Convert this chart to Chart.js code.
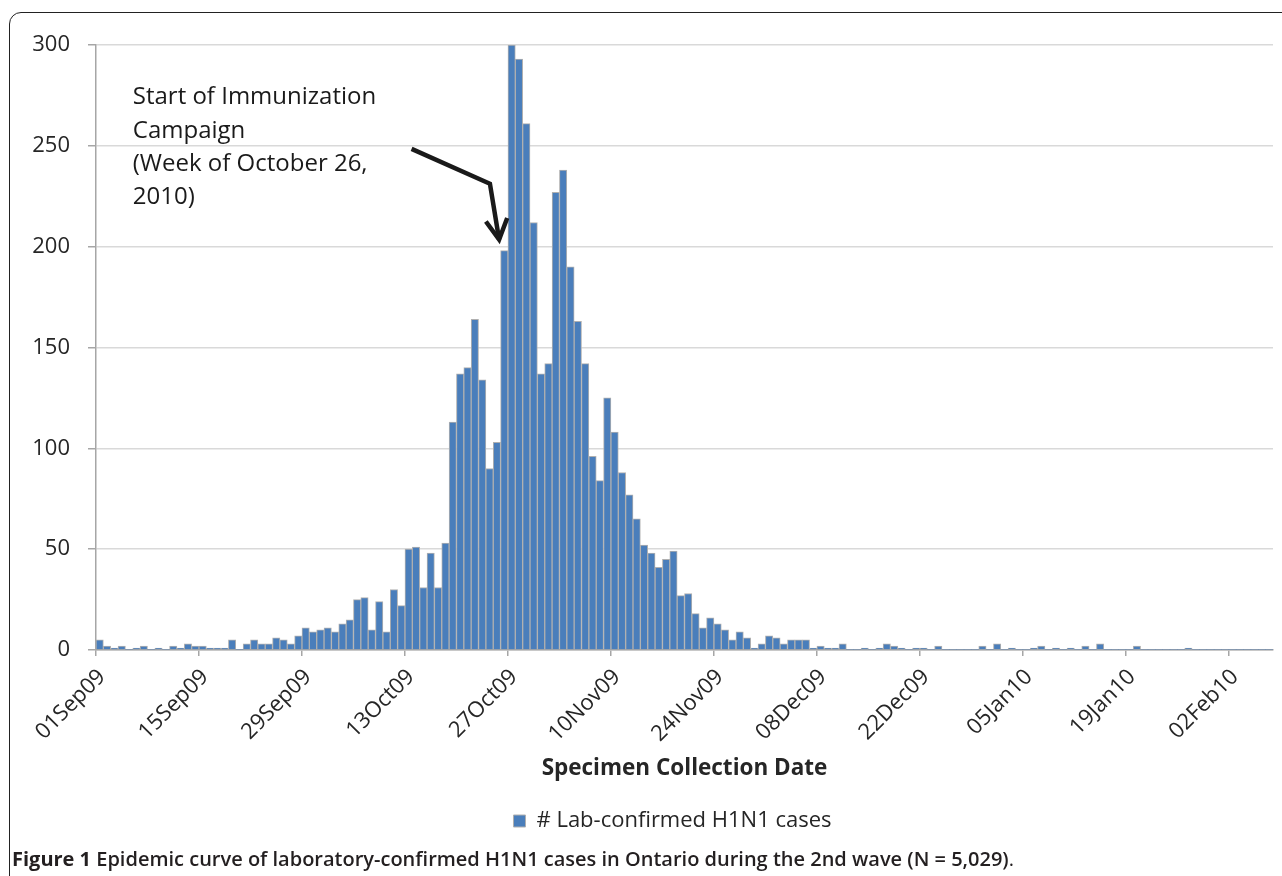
<!DOCTYPE html>
<html>
<head>
<meta charset="utf-8">
<script src="https://cdn.jsdelivr.net/npm/chart.js@4.4.0/dist/chart.umd.min.js"></script>
<style>
  html, body { margin: 0; padding: 0; background: #fff; }
  #wrap { position: relative; width: 1282px; height: 876px; overflow: hidden; }
  #frame {
    position: absolute; left: 9px; top: 12px; width: 1320px; height: 920px;
    border: 1.5px solid #222; border-radius: 12px; box-sizing: border-box;
  }
  #chart { position: absolute; left: 0; top: 0; }
  #caption {
    position: absolute; left: 12px; top: 845px; white-space: nowrap;
    font-family: "Open Sans", sans-serif; font-size: 20px; font-weight: 600; color: #231f20;
  }
  #caption b { font-weight: 700; }
</style>
</head>
<body>
<div id="wrap">
  <div id="frame"></div>
  <canvas id="chart" width="1282" height="876"></canvas>
  <div id="caption"><b>Figure 1</b> Epidemic curve of laboratory-confirmed H1N1 cases in Ontario during the 2nd wave (N = 5,029)<span style="font-weight:400">.</span></div>
</div>
<script>
// Daily counts, one per day starting 01Sep09
const cases = [
  5, 2, 1, 2, 0, 1, 2, 0, 1, 0,
  2, 1, 3, 2, 2, 1, 1, 1, 5, 0,
  3, 5, 3, 3, 6, 5, 3, 7, 11, 9,
  10, 11, 9, 13, 15, 25, 26, 10, 24, 9,
  30, 22, 50, 51, 31, 48, 31, 53, 113, 137,
  140, 164, 134, 90, 103, 198, 300, 293, 261, 212,
  137, 142, 227, 238, 190, 163, 142, 96, 84, 125,
  108, 88, 77, 65, 52, 48, 41, 45, 49, 27,
  28, 18, 11, 16, 13, 10, 5, 9, 6, 1,
  3, 7, 6, 3, 5, 5, 5, 1, 2, 1,
  1, 3, 0, 0, 1, 0, 1, 3, 2, 1,
  0, 1, 1, 0, 2, 0, 0, 0, 0, 0,
  2, 0, 3, 0, 1, 0, 0, 1, 2, 0,
  1, 0, 1, 0, 2, 0, 3, 0, 0, 0,
  0, 2, 0, 0, 0, 0, 0, 0, 1, 0,
  0, 0, 0, 0, 0, 0, 0, 0, 0, 0
];
const tickDays = [0, 14, 28, 42, 56, 70, 84, 98, 112, 126, 140, 154];
const tickLabels = ["01Sep09", "15Sep09", "29Sep09", "13Oct09", "27Oct09", "10Nov09",
  "24Nov09", "08Dec09", "22Dec09", "05Jan10", "19Jan10", "02Feb10"];
const yTicks = [0, 50, 100, 150, 200, 250, 300];

const noteLines = ["Start of Immunization", "Campaign", "(Week of October 26,", "2010)"];
const noteAnchor = [5, 274]; // day, cases
const arrowLine = [[42.9, 248.5], [53.55, 231.2], [54.8, 203.5]];
const arrowHead = [[53.0, 212.5], [54.8, 203.5], [55.9, 214.2]];

const textColor = "#262626";
const font = "'Open Sans', sans-serif";

// annotation text and arrow, placed through the scales
const notePlugin = {
  id: "note",
  afterLayout(chart) {
    // legend sits a little left of the plot centre in the original
    chart.legend.left -= 12;
    chart.legend.right -= 12;
  },
  afterDatasetsDraw(chart) {
    const { ctx, scales: { x, y } } = chart;
    ctx.save();
    ctx.fillStyle = "#1a1a1a";
    ctx.font = "24px " + font;
    ctx.textBaseline = "middle";
    ctx.textAlign = "left";
    const tx = x.getPixelForValue(noteAnchor[0]);
    const ty = y.getPixelForValue(noteAnchor[1]);
    noteLines.forEach((line, i) => ctx.fillText(line, tx, ty + i * 33.3));

    ctx.strokeStyle = "#1a1a1a";
    ctx.lineWidth = 4.5;
    ctx.lineJoin = "miter";
    [arrowLine, arrowHead].forEach((pts) => {
      ctx.beginPath();
      pts.forEach((p, i) => {
        const px = x.getPixelForValue(p[0]);
        const py = y.getPixelForValue(p[1]);
        if (i === 0) ctx.moveTo(px, py); else ctx.lineTo(px, py);
      });
      ctx.stroke();
    });
    ctx.restore();
  },
};

new Chart(document.getElementById("chart"), {
  type: "bar",
  data: {
    datasets: [
      {
        label: "# Lab-confirmed H1N1 cases",
        data: cases.map((v, i) => ({ x: i + 0.5, y: v })),
        backgroundColor: "#4a7ebb",
        borderColor: "#b0b0b0",
        borderWidth: (c) => (c.raw && c.raw.y === 0 ? 0 : 1),
        barPercentage: 1,
        categoryPercentage: 1,
      },
    ],
  },
  options: {
    responsive: false,
    animation: false,
    layout: { padding: { left: 0, top: 45, right: 9, bottom: 34 } },
    scales: {
      x: {
        type: "linear",
        min: 0,
        max: 160,
        offset: false,
        afterBuildTicks: (scale) => {
          scale.ticks = tickDays.map((v) => ({ value: v }));
        },
        afterFit: (scale) => {
          scale.height = 136;
        },
        ticks: {
          autoSkip: false,
          maxRotation: 45,
          minRotation: 45,
          padding: 8,
          labelOffset: 6,
          color: textColor,
          font: { family: font, size: 22 },
          callback: (value, index) => tickLabels[index],
        },
        grid: {
          offset: false,
          drawOnChartArea: false,
          tickLength: 6,
          tickColor: "#a6a6a6",
          lineWidth: 1.5,
        },
        border: { color: "#a6a6a6", width: 1.5 },
        title: {
          display: true,
          text: "Specimen Collection Date",
          color: textColor,
          font: { family: font, size: 22.5, weight: "bold" },
          padding: { top: 0, bottom: 4 },
        },
      },
      y: {
        min: 0,
        max: 300,
        afterBuildTicks: (scale) => {
          scale.ticks = yTicks.map((v) => ({ value: v }));
        },
        afterFit: (scale) => {
          scale.width = 96;
        },
        ticks: {
          padding: 18,
          color: textColor,
          font: { family: font, size: 22 },
        },
        grid: {
          color: "#d9d9d9",
          lineWidth: 1.5,
          tickLength: 8,
          tickColor: "#a6a6a6",
        },
        border: { color: "#a6a6a6", width: 1.5 },
      },
    },
    plugins: {
      legend: {
        position: "bottom",
        fullSize: false,
        labels: {
          boxWidth: 12,
          boxHeight: 12,
          padding: 24,
          color: textColor,
          font: { family: font, size: 22 },
        },
      },
      tooltip: { enabled: false },
    },
  },
  plugins: [notePlugin],
});
</script>
</body>
</html>
